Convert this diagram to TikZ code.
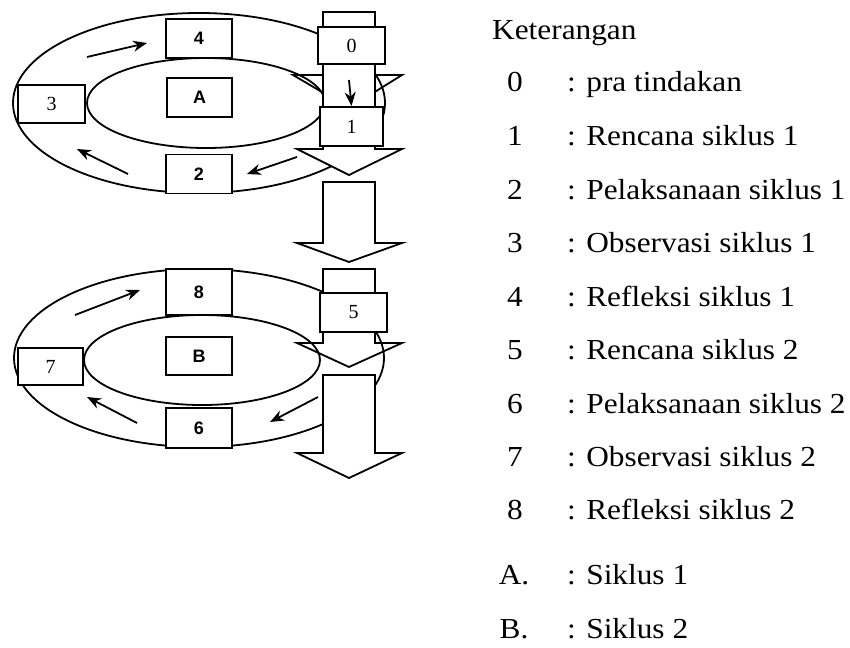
\documentclass[tikz,border=0pt]{standalone}
\usepackage{fontspec}
\setmainfont{Liberation Serif}[FakeStretch=1.08]
\newfontfamily\labelsans{Liberation Sans}
\newfontfamily\labelserif{Liberation Serif}
\usetikzlibrary{arrows.meta}

\begin{document}
\begin{tikzpicture}[x=1pt, y=-1pt, >={Stealth[length=14pt,width=11pt]},
    garis/.style={line width=1.8pt},
    panah/.style={->, line width=1.8pt},
    kotak/.style={draw, fill=white, line width=1.8pt, inner sep=0pt,
        minimum width=66pt, minimum height=39pt,
        font=\labelsans\bfseries\fontsize{18}{18}\selectfont},
    kotakserif/.style={kotak, font=\labelserif\fontsize{20}{20}\selectfont},
    nomor/.style={anchor=base, inner sep=0pt},
    ket/.style={anchor=base west, inner sep=0pt},
    font=\fontsize{29}{34}\selectfont]
    \useasboundingbox (0,0) rectangle (850,647);

    % Siklus 1 : cincin
    \draw[garis] (199,103) ellipse [x radius=186pt, y radius=90pt];
    \draw[garis] (206,103) ellipse [x radius=119pt, y radius=45pt];

    % Siklus 2 : cincin
    \draw[garis] (199,358) ellipse [x radius=185pt, y radius=89pt];
    \draw[garis] (202,360) ellipse [x radius=118pt, y radius=45pt];

    % Panah besar pra tindakan -> rencana 1
    \draw[garis] (323,75) -- (293,75) -- (349,108) -- (402,75) -- (375,75);
    \draw[garis, fill=white] (323,12) rectangle (375,107);

    % Panah besar di bawah rencana 1
    \draw[garis, fill=white] (323,140) -- (323,149) -- (297,149) -- (349,175)
        -- (402,149) -- (375,149) -- (375,140);

    % Panah besar antar siklus
    \draw[garis, fill=white] (323,182) -- (323,243) -- (297,243) -- (349,262)
        -- (402,243) -- (375,243) -- (375,182) -- cycle;

    % Panah besar rencana 2
    \fill[white] (323,269) rectangle (375,343);
    \draw[garis] (323,269) -- (323,343) -- (297,343) -- (349,367)
        -- (402,343) -- (375,343) -- (375,269) -- cycle;

    % Panah besar akhir
    \draw[garis, fill=white] (323,375) -- (323,453) -- (297,453) -- (349,478)
        -- (402,453) -- (375,453) -- (375,375) -- cycle;

    % Kotak siklus 1
    \node[kotakserif, minimum width=67pt, minimum height=37pt] (b0) at (351.5,45.5) {0};
    \node[kotakserif, minimum width=63pt] (b1) at (351.5,126.5) {1};
    \node[kotak] (b2) at (199,174) {2};
    \node[kotakserif, minimum width=67pt, minimum height=38pt] (b3) at (51.5,104) {3};
    \node[kotak] (b4) at (199,38.5) {4};
    \node[kotak, minimum width=65pt] (bA) at (199.5,97.5) {A};

    % Kotak siklus 2
    \node[kotakserif, minimum width=67pt] (b5) at (353.5,312.5) {5};
    \node[kotak, minimum height=40pt] (b6) at (199,428) {6};
    \node[kotakserif, minimum width=65pt, minimum height=37pt] (b7) at (50.5,366.5) {7};
    \node[kotak, minimum height=46pt] (b8) at (199,292) {8};
    \node[kotak, minimum height=38pt] (bB) at (199,356) {B};

    % Panah kecil
    \coordinate (t0) at (349,80);
    \draw[panah] (t0) -- (b1.north);

    \coordinate (a1s) at (87,57);   \coordinate (a1e) at (147,43);
    \coordinate (a2s) at (128,174); \coordinate (a2e) at (77,149);
    \coordinate (a3s) at (297,157); \coordinate (a3e) at (247,174);
    \coordinate (c1s) at (75,315);  \coordinate (c1e) at (140,290);
    \coordinate (c2s) at (137,423); \coordinate (c2e) at (87,397);
    \coordinate (c3s) at (318,397); \coordinate (c3e) at (270,422);
    \draw[panah] (a1s) -- (a1e);
    \draw[panah] (a2s) -- (a2e);
    \draw[panah] (a3s) -- (a3e);
    \draw[panah] (c1s) -- (c1e);
    \draw[panah] (c2s) -- (c2e);
    \draw[panah] (c3s) -- (c3e);

    % Keterangan
    \node[ket] (judul) at (492,40) {Keterangan};
    \node[nomor] (n0) at (515,92) {0};   \node[ket] (k0) at (567,92) {: pra tindakan};
    \node[nomor] (n1) at (515,146) {1};  \node[ket] (k1) at (567,146) {: Rencana siklus 1};
    \node[nomor] (n2) at (515,199) {2};  \node[ket] (k2) at (567,199) {: Pelaksanaan siklus 1};
    \node[nomor] (n3) at (515,252) {3};  \node[ket] (k3) at (567,252) {: Observasi siklus 1};
    \node[nomor] (n4) at (515,306) {4};  \node[ket] (k4) at (567,306) {: Refleksi siklus 1};
    \node[nomor] (n5) at (515,359) {5};  \node[ket] (k5) at (567,359) {: Rencana siklus 2};
    \node[nomor] (n6) at (515,413) {6};  \node[ket] (k6) at (567,413) {: Pelaksanaan siklus 2};
    \node[nomor] (n7) at (515,466) {7};  \node[ket] (k7) at (567,466) {: Observasi siklus 2};
    \node[nomor] (n8) at (515,519) {8};  \node[ket] (k8) at (567,519) {: Refleksi siklus 2};
    \node[nomor] (nA) at (514,584) {A.}; \node[ket] (kA) at (567,584) {: Siklus 1};
    \node[nomor] (nB) at (514,638) {B.}; \node[ket] (kB) at (567,638) {: Siklus 2};
\end{tikzpicture}
\end{document}
